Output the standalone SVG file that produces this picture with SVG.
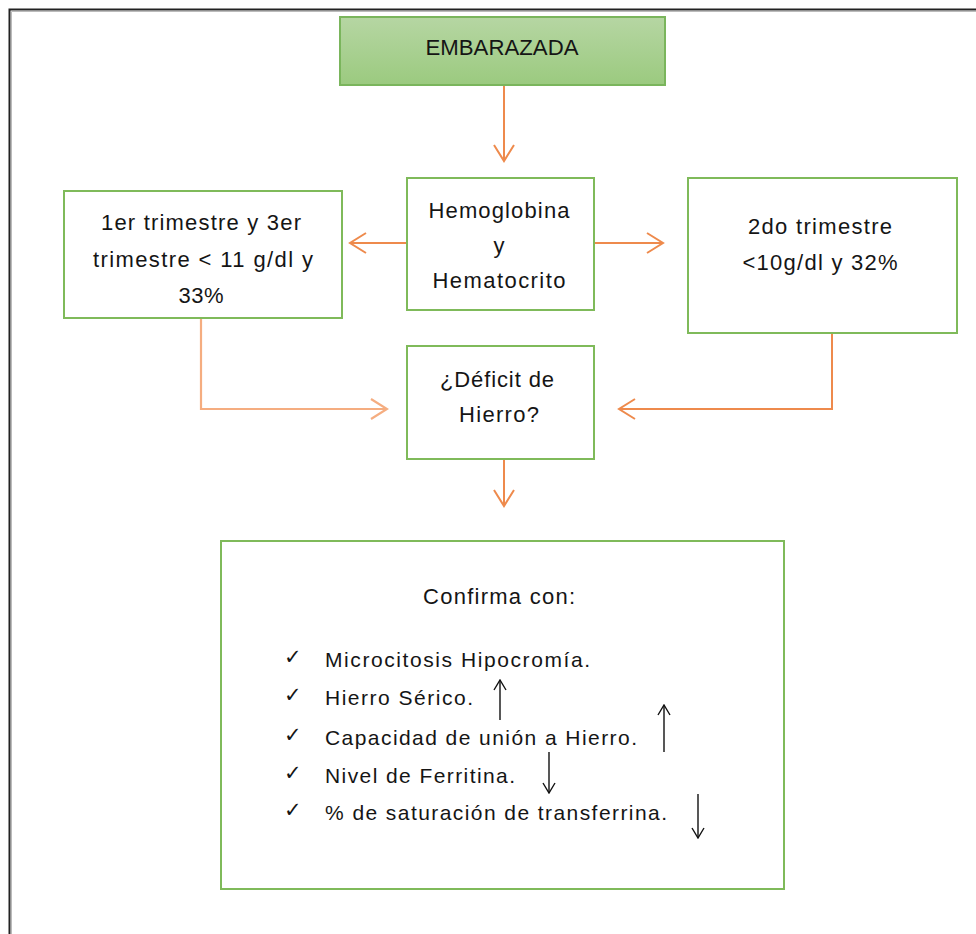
<svg xmlns="http://www.w3.org/2000/svg" width="976" height="934" viewBox="0 0 976 934">
<style>
  .t { font-family: "Liberation Sans", Arial, sans-serif; font-size: 22px; fill: #151515; text-anchor: middle; }
  .li { font-family: "Liberation Sans", Arial, sans-serif; font-size: 21px; fill: #151515; }
  .ck { font-family: "DejaVu Sans", sans-serif; font-size: 21px; font-weight: bold; fill: #151515; }
  .box { fill: #ffffff; stroke: #7fba5a; stroke-width: 2; }
  .con { fill: none; stroke: #ee8a4c; stroke-width: 2; }
  .conl { fill: none; stroke: #f5ad80; stroke-width: 2.2; }
  .blk { fill: none; stroke: #111; stroke-width: 1.4; }
</style>
<defs>
  <linearGradient id="g" x1="0" y1="0" x2="0" y2="1">
    <stop offset="0" stop-color="#b6d6a3"/>
    <stop offset="1" stop-color="#9bca7f"/>
  </linearGradient>
  <marker id="ah" viewBox="0 0 20 24" refX="18" refY="12" markerWidth="20" markerHeight="24" markerUnits="userSpaceOnUse" orient="auto">
    <path d="M2,2 L18,12 L2,22" fill="none" stroke="#ee8a4c" stroke-width="2"/>
  </marker>
  <marker id="ahl" viewBox="0 0 20 24" refX="18" refY="12" markerWidth="20" markerHeight="24" markerUnits="userSpaceOnUse" orient="auto">
    <path d="M2,2 L18,12 L2,22" fill="none" stroke="#f5ad80" stroke-width="2.2"/>
  </marker>
  <marker id="bh" viewBox="0 0 12 14" refX="11" refY="7" markerWidth="12" markerHeight="14" markerUnits="userSpaceOnUse" orient="auto">
    <path d="M1,1 L11,7 L1,13" fill="none" stroke="#111" stroke-width="1.4"/>
  </marker>
</defs>

<rect width="976" height="934" fill="#ffffff"/>
<!-- outer frame -->
<path d="M9.5,934 L9.5,9.5 L976,9.5" fill="none" stroke="#222" stroke-width="2"/>
<path d="M11.5,934 L11.5,11.5 L976,11.5" fill="none" stroke="#bbb" stroke-width="1"/>

<g id="connectors">
  <line class="con" x1="504" y1="85" x2="504" y2="161" marker-end="url(#ah)"/>
  <line class="con" x1="407" y1="243" x2="350" y2="243" marker-end="url(#ah)"/>
  <line class="con" x1="594" y1="243" x2="663" y2="243" marker-end="url(#ah)"/>
  <path class="conl" d="M201,319 L201,409 L387,409" marker-end="url(#ahl)"/>
  <path class="con" d="M832,333 L832,409 L619,409" marker-end="url(#ah)"/>
  <line class="con" x1="504" y1="459" x2="504" y2="506" marker-end="url(#ah)"/>
</g>

<g id="embarazada">
  <rect x="340" y="17" width="325" height="68" fill="url(#g)" stroke="#7ab55c" stroke-width="2"/>
  <text class="t" x="502" y="55" textLength="153" lengthAdjust="spacingAndGlyphs">EMBARAZADA</text>
</g>

<g id="hemoglobina">
  <rect class="box" x="407" y="178" width="187" height="132"/>
  <text class="t" x="499" y="218" textLength="141">Hemoglobina</text>
  <text class="t" x="499" y="253">y</text>
  <text class="t" x="499" y="288" textLength="133">Hematocrito</text>
</g>

<g id="primer-tercer">
  <rect class="box" x="64" y="191" width="278" height="127"/>
  <text class="t" x="201" y="230" textLength="200">1er trimestre y 3er</text>
  <text class="t" x="203" y="267" textLength="220">trimestre &lt; 11 g/dl y</text>
  <text class="t" x="201" y="303" textLength="45">33%</text>
</g>

<g id="segundo">
  <rect class="box" x="688" y="178" width="269" height="155"/>
  <text class="t" x="820" y="234" textLength="144">2do trimestre</text>
  <text class="t" x="820" y="270" textLength="155">&lt;10g/dl y 32%</text>
</g>

<g id="deficit">
  <rect class="box" x="407" y="346" width="187" height="113"/>
  <text class="t" x="497" y="387" textLength="114">¿Déficit de</text>
  <text class="t" x="499" y="422" textLength="80">Hierro?</text>
</g>

<g id="confirma">
  <rect class="box" x="221" y="541" width="563" height="348"/>
  <text class="t" x="499" y="604" textLength="152">Confirma con:</text>
  <text class="ck" x="284" y="664">✓</text>
  <text class="ck" x="284" y="702">✓</text>
  <text class="ck" x="284" y="742">✓</text>
  <text class="ck" x="284" y="780">✓</text>
  <text class="ck" x="284" y="817">✓</text>
  <text class="li" x="325" y="667" textLength="265">Microcitosis Hipocromía.</text>
  <text class="li" x="325" y="705" textLength="148">Hierro Sérico.</text>
  <text class="li" x="325" y="745" textLength="312">Capacidad de unión a Hierro.</text>
  <text class="li" x="325" y="783" textLength="190">Nivel de Ferritina.</text>
  <text class="li" x="325" y="820" textLength="342">% de saturación de transferrina.</text>
  <line class="blk" x1="500" y1="720" x2="500" y2="680" marker-end="url(#bh)"/>
  <line class="blk" x1="664" y1="752" x2="664" y2="705" marker-end="url(#bh)"/>
  <line class="blk" x1="549" y1="752" x2="549" y2="793" marker-end="url(#bh)"/>
  <line class="blk" x1="698" y1="794" x2="698" y2="838" marker-end="url(#bh)"/>
</g>
</svg>
